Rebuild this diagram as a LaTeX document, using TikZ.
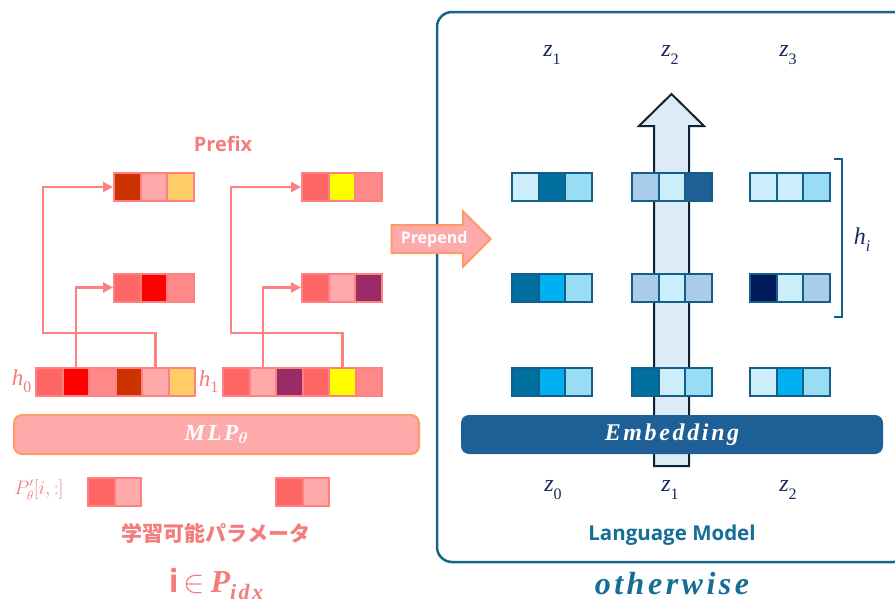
\documentclass[tikz,border=0pt]{standalone}
\usepackage{fix-cm}
\usepackage{amsmath,amssymb,bm}
\usepackage{fontspec}
\setsansfont{Open Sans}
\newfontfamily\jpfont{Noto Sans CJK JP}
\newfontfamily\wideit[LetterSpace=11]{Liberation Serif}
\newfontfamily\varit{Liberation Serif}
\usepackage{xcolor}
\definecolor{pkrust}{RGB}{204,51,0}
\definecolor{pkpale}{RGB}{255,170,170}
\definecolor{pkgold}{RGB}{255,204,102}
\definecolor{pksalmon}{RGB}{255,102,102}
\definecolor{pkyellow}{RGB}{255,255,0}
\definecolor{pklight}{RGB}{255,136,136}
\definecolor{pkred}{RGB}{255,0,0}
\definecolor{pkplum}{RGB}{153,44,102}
\definecolor{pkline}{RGB}{255,128,128}
\definecolor{pkorange}{RGB}{255,155,105}
\definecolor{pktext}{RGB}{242,125,125}
\definecolor{blpale}{RGB}{204,238,250}
\definecolor{blteal}{RGB}{0,112,160}
\definecolor{blsky}{RGB}{153,221,245}
\definecolor{blsoft}{RGB}{170,204,236}
\definecolor{blnavy}{RGB}{30,95,150}
\definecolor{blcyan}{RGB}{0,176,240}
\definecolor{bldeep}{RGB}{0,25,90}
\definecolor{blline}{RGB}{20,95,135}
\definecolor{blframe}{RGB}{22,100,135}
\definecolor{bltext}{RGB}{25,40,95}
\definecolor{blmodel}{RGB}{20,110,150}
\definecolor{blflow}{RGB}{221,235,247}
\definecolor{blflowline}{RGB}{15,35,50}
\usetikzlibrary{arrows.meta,positioning,shapes.arrows,calc}

% one vector of cells: style, name, left x, centre y, colours
\newcommand{\vecrow}[5]{%
  \foreach \cc [count=\n] in {#5}
    \node[#1, fill=\cc] (#2-\n) at ({#3+(\n-0.5)*26.5}, #4) {};
}
% italic symbol with a lowered index
\newcommand{\symsub}[2]{{\varit\itshape #1}\raisebox{-0.3em}{\varit\fontsize{16}{18}\selectfont #2}}

\begin{document}
\begin{tikzpicture}[x=1pt, y=-1pt,
    cellpk/.style={draw=pkline, line width=2pt, minimum width=26.5pt,
                   minimum height=28pt, inner sep=0pt},
    cellbl/.style={cellpk, draw=blline},
    link/.style={draw=pkline, line width=2.5pt, -{Triangle[length=10pt,width=10pt]}},
    lmframe/.style={draw=blframe, line width=2.5pt, rounded corners=15pt},
    flow/.style={draw=blflowline, fill=blflow, line width=2pt},
    brace/.style={draw=blline, line width=2pt},
    zlab/.style={text=bltext, font=\fontsize{24}{26}\selectfont},
    pklab/.style={text=pktext},
    slab/.style={rectangle, rounded corners=8pt, text=white, inner sep=0pt,
                 font=\wideit\bfseries\itshape\fontsize{24}{28}\selectfont},
    prepend/.style={single arrow, draw=pkorange, fill=pkpale, line width=2pt,
                    text=white, font=\sffamily\bfseries\fontsize{16}{18}\selectfont,
                    text height=11.5pt, text depth=3.5pt, inner xsep=3pt, inner ysep=5.5pt,
                    minimum height=99pt, single arrow head extend=13.5pt}
  ]
    \useasboundingbox (0,0) rectangle (895,605);

    % Language model
    \draw[lmframe] (437,12) rectangle (908,562);
    \draw[flow] (654,466) -- (654,126) -- (639,126) -- (671.5,94)
      -- (704,126) -- (689,126) -- (689,466) -- cycle;

    \vecrow{cellbl}{a3}{512}{187}{blpale,blteal,blsky}
    \vecrow{cellbl}{b3}{632}{187}{blsoft,blpale,blnavy}
    \vecrow{cellbl}{c3}{750}{187}{blpale,blpale,blsky}
    \vecrow{cellbl}{a2}{512}{288}{blteal,blcyan,blsky}
    \vecrow{cellbl}{b2}{632}{288}{blsoft,blpale,blsoft}
    \vecrow{cellbl}{c2}{750}{288}{bldeep,blpale,blsoft}
    \vecrow{cellbl}{a1}{512}{381.5}{blteal,blcyan,blsky}
    \vecrow{cellbl}{b1}{632}{381.5}{blteal,blpale,blsky}
    \vecrow{cellbl}{c1}{750}{381.5}{blpale,blcyan,blsky}

    \node[slab, fill=blnavy, minimum width=422pt, minimum height=39pt] (emb)
      at (672,434.5) {Embedding};

    \node[zlab] (zo1) at (552,55) {\symsub{z}{1}};
    \node[zlab] (zo2) at (670,55) {\symsub{z}{2}};
    \node[zlab] (zo3) at (788,55) {\symsub{z}{3}};
    \node[zlab] (zi0) at (553,490) {\symsub{z}{0}};
    \node[zlab] (zi1) at (670,490) {\symsub{z}{1}};
    \node[zlab] (zi2) at (788,490) {\symsub{z}{2}};

    \draw[brace] (834,159) -- (842,159) -- (842,317) -- (834,317);
    \node[zlab] (hi) at (862,240) {\symsub{h}{\itshape i}};

    \node[text=blmodel, font=\sffamily\bfseries\fontsize{20.5}{24}\selectfont] (lm)
      at (672,535) {Language Model};
    \node[text=blmodel, font=\wideit\bfseries\itshape\fontsize{32}{36}\selectfont] (other)
      at (672,584) {otherwise};

    % Prefix side
    \node[pklab, font=\sffamily\bfseries\fontsize{20}{24}\selectfont] (prefix)
      at (223,144) {Prefix};
    \vecrow{cellpk}{p0t}{114}{187}{pkrust,pkpale,pkgold}
    \vecrow{cellpk}{p1t}{302}{187}{pksalmon,pkyellow,pklight}
    \vecrow{cellpk}{p0m}{114}{287.5}{pksalmon,pkred,pklight}
    \vecrow{cellpk}{p1m}{302}{287.5}{pksalmon,pkpale,pkplum}
    \vecrow{cellpk}{h0}{36}{381.5}{pksalmon,pkred,pklight,pkrust,pkpale,pkgold}
    \vecrow{cellpk}{h1}{223}{381.5}{pksalmon,pkpale,pkplum,pksalmon,pkyellow,pklight}
    \node[pklab, font=\fontsize{23}{24}\selectfont, left=0pt of h0-1] (h0lab) {\symsub{h}{0}};
    \node[pklab, font=\fontsize{23}{24}\selectfont, left=0pt of h1-1] (h1lab) {\symsub{h}{1}};

    \coordinate (k0) at (43,333);
    \coordinate (k1) at (231,333);
    \draw[link] (h0-2.north) |- (p0m-1.west);
    \draw[link] (h0-5.north) |- (k0) |- (p0t-1.west);
    \draw[link] (h1-2.north) |- (p1m-1.west);
    \draw[link] (h1-5.north) |- (k1) |- (p1t-1.west);

    \node[slab, fill=pkpale, draw=pkorange, line width=2pt, minimum width=405pt,
          minimum height=39pt, font=\wideit\bfseries\itshape\fontsize{23}{26}\selectfont] (mlp)
      at (216.5,434.5) {MLP$_{\bm{\theta}}$};

    \node[pklab, font=\fontsize{19.5}{22}\selectfont] (plab) at (39,490) {$P'_\theta[i,:]$};
    \vecrow{cellpk}{q0}{88}{491.5}{pksalmon,pkpale}
    \vecrow{cellpk}{q1}{276}{491.5}{pksalmon,pkpale}

    \node[pklab, font=\jpfont\bfseries\fontsize{21}{24}\selectfont] (param)
      at (216,533) {学習可能パラメータ};
    \node[pklab, font=\fontsize{32}{36}\selectfont] (idx)
      at (216,584) {{\sffamily\bfseries i}\,$\in$\,{\wideit\bfseries\itshape P\raisebox{-0.22em}{\fontsize{22}{24}\selectfont idx}}};

    \node[prepend, anchor=tip] (prep) at (492,239) {Prepend};
  \end{tikzpicture}
\end{document}
